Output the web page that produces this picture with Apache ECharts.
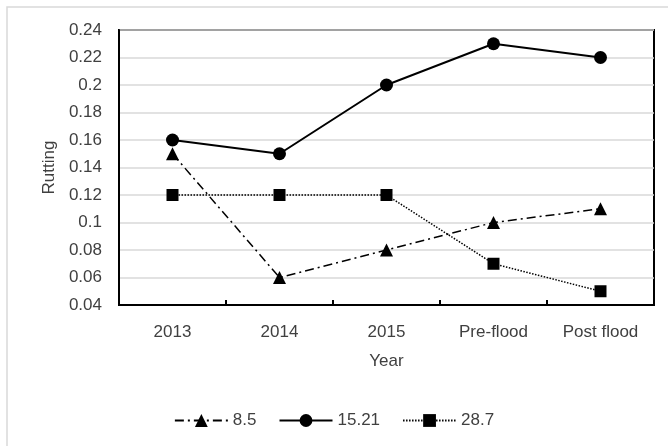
<!DOCTYPE html>
<html>
<head>
<meta charset="utf-8">
<script src="https://cdn.jsdelivr.net/npm/echarts@6/dist/echarts.min.js"></script>
<style>
  html, body { margin: 0; padding: 0; background: #fff; }
  #chart { width: 668px; height: 446px; }
</style>
</head>
<body>
<div id="chart"></div>
<script>
// Rutting measurements by year for three sections
const years = ['2013', '2014', '2015', 'Pre-flood', 'Post flood'];
const series85 = [0.15, 0.06, 0.08, 0.10, 0.11];
const series1521 = [0.16, 0.15, 0.20, 0.23, 0.22];
const series287 = [0.12, 0.12, 0.12, 0.07, 0.05];
const seriesNames = ['8.5', '15.21', '28.7'];

const FONT = '"Liberation Sans", Arial, sans-serif';
const TEXT = '#404040';

const chart = echarts.init(document.getElementById('chart'), null, { renderer: 'canvas' });

chart.setOption({
  backgroundColor: '#fff',
  animation: false,
  textStyle: { fontFamily: FONT },
  graphic: [{
    type: 'rect',
    shape: { x: 7, y: 7, width: 680, height: 460 },
    style: { fill: 'none', stroke: '#d9d9d9', lineWidth: 1.5 },
    silent: true
  }],
  grid: {
    left: 119, top: 30, right: 14, bottom: 141,
    show: true, borderColor: '#000', borderWidth: 2, backgroundColor: 'transparent'
  },
  legend: {
    bottom: 12,
    left: 'center',
    itemWidth: 53,
    itemHeight: 16,
    itemGap: 22,
    textStyle: { fontFamily: FONT, fontSize: 17, color: TEXT },
    data: seriesNames
  },
  xAxis: {
    type: 'category',
    data: years,
    boundaryGap: true,
    name: 'Year',
    nameLocation: 'middle',
    nameGap: 48,
    nameTextStyle: { fontFamily: FONT, fontSize: 17, color: TEXT },
    axisLine: { lineStyle: { color: '#000', width: 2 } },
    axisTick: { show: true, inside: true, length: 5, interval: 0, lineStyle: { color: '#000', width: 2 } },
    axisLabel: { fontFamily: FONT, fontSize: 17, color: TEXT, margin: 19, interval: 0 },
    splitLine: { show: false }
  },
  yAxis: {
    type: 'value',
    min: 0.04,
    max: 0.24,
    interval: 0.02,
    name: 'Rutting',
    nameLocation: 'middle',
    nameGap: 58,
    nameRotate: 90,
    nameTextStyle: { fontFamily: FONT, fontSize: 17, color: TEXT },
    axisLine: { show: true, lineStyle: { color: '#000', width: 2 } },
    axisTick: { show: false },
    axisLabel: {
      fontFamily: FONT, fontSize: 17, color: TEXT, margin: 17,
      formatter: v => String(parseFloat(v.toFixed(2)))
    },
    splitLine: { show: true, lineStyle: { color: '#d9d9d9', width: 1.5 } }
  },
  series: [
    {
      name: seriesNames[0],
      type: 'line',
      data: series85,
      symbol: 'triangle',
      symbolSize: 13,
      itemStyle: { color: '#000' },
      lineStyle: { color: '#000', width: 1.5, type: [9, 4, 2, 4] }
    },
    {
      name: seriesNames[1],
      type: 'line',
      data: series1521,
      symbol: 'circle',
      symbolSize: 13,
      itemStyle: { color: '#000' },
      lineStyle: { color: '#000', width: 2, type: 'solid' }
    },
    {
      name: seriesNames[2],
      type: 'line',
      data: series287,
      symbol: 'rect',
      symbolSize: 12,
      itemStyle: { color: '#000' },
      lineStyle: { color: '#000', width: 1.5, type: [1.5, 1.5] }
    }
  ]
});
</script>
</body>
</html>
